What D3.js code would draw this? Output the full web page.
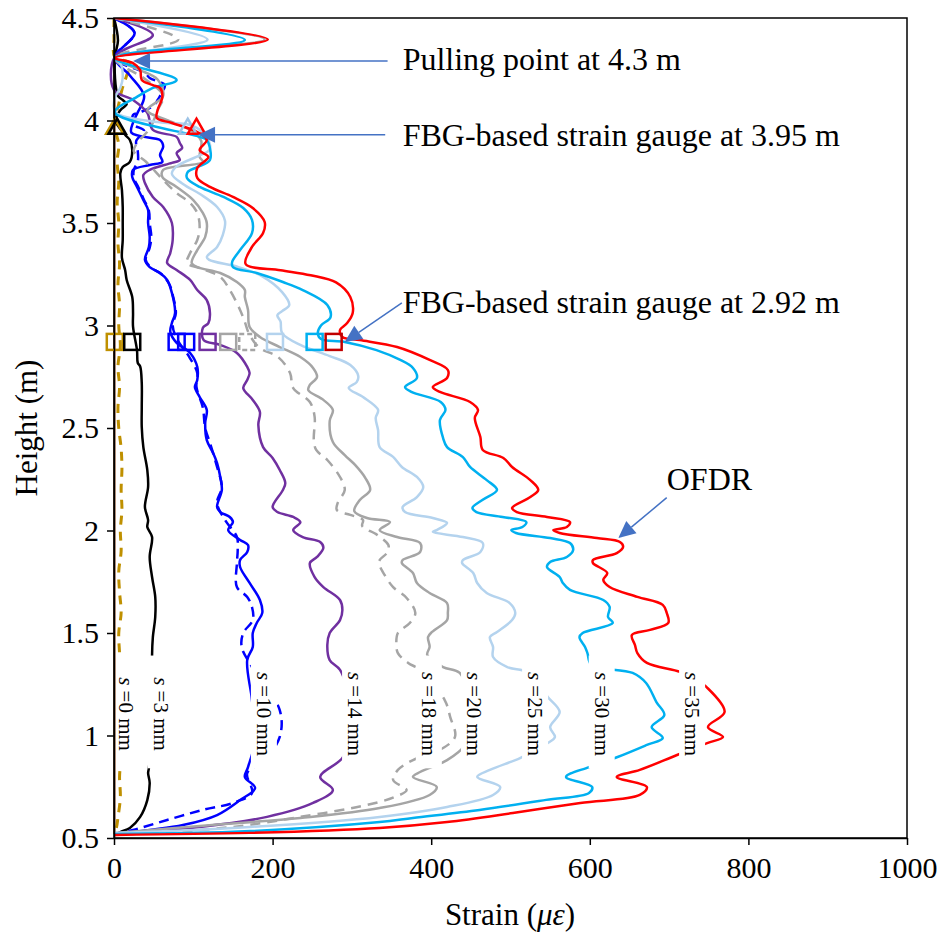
<!DOCTYPE html>
<html>
<head>
<meta charset="utf-8">
<script src="https://cdn.jsdelivr.net/npm/d3@7"></script>
<style>
body { margin: 0; background: #fff; }
text { font-family: "Liberation Serif", "Times New Roman", serif; fill: #000; }
</style>
</head>
<body>
<svg id="chart" width="943" height="943"></svg>
<script>
// ---- data: [height (m), strain (microstrain)] ----
var heightTicks = [0.5, 1, 1.5, 2, 2.5, 3, 3.5, 4, 4.5];
var strainTicks = [0, 200, 400, 600, 800, 1000];

var ofdr0 = [[4.3,0.5],[0.52,0.5]];
var ofdr0b = [[4.5,0],[4.4,0],[4.31,1],[4.28,20],[4.22,16],[4.15,10],[4.08,6],[4.0,1],[3.95,2],[3.88,6],[3.8,4],[3.7,6],[3.6,4],[3.5,6],[3.4,5],[3.3,7],[3.2,5],[3.1,7],[3.0,6],[2.9,8],[2.8,5],[2.7,7],[2.6,5],[2.5,6],[2.4,9],[2.3,10],[2.2,9],[2.1,10],[2.0,8],[1.9,9],[1.8,6],[1.7,7],[1.6,9],[1.5,6],[1.4,7],[1.3,8],[1.2,9],[1.1,8],[1.0,8],[0.9,9],[0.8,7],[0.7,8],[0.6,5],[0.55,3],[0.52,0]];
var ofdr3 = [[4.5,0],[4.39,5],[4.305,1],[4.12,5],[4.1,11],[4.08,16],[4.05,8],[4.0,2],[3.93,14],[3.905,20],[3.856,23],[3.798,20],[3.773,11],[3.744,8],[3.66,10],[3.578,11],[3.5,11],[3.417,11],[3.33,10],[3.271,14],[3.222,16],[3.139,23],[3.061,24],[2.995,24],[2.88,29],[2.817,30],[2.8,33],[2.72,35],[2.602,35],[2.505,35],[2.407,37],[2.295,42],[2.212,43],[2.115,39],[2.051,43],[2.017,42],[1.968,48],[1.871,45],[1.773,48],[1.676,52],[1.578,52],[1.48,49],[1.393,48],[1.124,49],[0.841,44],[0.817,43],[0.768,45],[0.685,42],[0.603,33],[0.549,20],[0.529,8],[0.515,1]];
var ofdr10 = [[4.5,0],[4.427,26],[4.305,1],[4.22,20],[4.12,38],[4.04,30],[3.99,24],[3.94,22],[3.905,58],[3.89,61],[3.871,62],[3.832,58],[3.798,61],[3.783,45],[3.759,24],[3.724,23],[3.676,29],[3.612,37],[3.563,43],[3.5,43],[3.432,45],[3.383,44],[3.32,39],[3.285,45],[3.256,58],[3.222,67],[3.159,73],[3.061,77],[3.012,73],[2.968,71],[2.915,79],[2.866,96],[2.798,105],[2.734,105],[2.7,102],[2.651,108],[2.588,117],[2.524,115],[2.441,117],[2.378,125],[2.329,130],[2.261,134],[2.198,136],[2.115,130],[2.09,134],[2.066,146],[2.041,150],[2.002,144],[1.954,159],[1.929,169],[1.895,168],[1.856,159],[1.822,159],[1.744,171],[1.661,184],[1.598,187],[1.549,180],[1.5,175],[1.432,175],[1.368,168],[1.173,174],[0.978,178],[0.846,169],[0.798,165],[0.744,178],[0.685,159],[0.612,130],[0.563,87],[0.539,45],[0.519,4]];
var ofdr10b = [[4.5,0],[4.427,26],[4.305,1],[4.232,39],[4.207,45],[4.173,64],[4.139,61],[4.1,55],[4.075,51],[4.04,33],[4.027,24],[3.98,25],[3.95,38],[3.9,28],[3.85,30],[3.8,30],[3.76,25],[3.72,25],[3.68,30],[3.62,37],[3.56,44],[3.5,45],[3.43,47],[3.38,45],[3.32,40],[3.285,46],[3.25,60],[3.2,70],[3.15,74],[3.06,78],[3.0,74],[2.93,80],[2.846,95],[2.768,105],[2.7,104],[2.6,112],[2.5,115],[2.427,121],[2.31,130],[2.212,136],[2.134,130],[2.051,140],[1.968,155],[1.905,156],[1.841,155],[1.724,155],[1.676,168],[1.627,174],[1.563,175],[1.5,163],[1.432,161],[1.334,174],[1.124,209],[0.993,209],[0.88,190],[0.817,168],[0.72,174],[0.671,150],[0.637,112],[0.588,67],[0.539,24],[0.52,1]];
var ofdr14 = [[4.5,0],[4.417,49],[4.31,1],[4.149,0],[4.1,24],[4.037,42],[3.954,49],[3.92,79],[3.89,83],[3.866,86],[3.841,79],[3.807,83],[3.793,73],[3.759,45],[3.734,37],[3.695,39],[3.627,49],[3.578,62],[3.5,73],[3.417,74],[3.354,71],[3.305,67],[3.271,79],[3.222,96],[3.173,105],[3.124,117],[3.061,121],[3.012,119],[2.988,112],[2.929,113],[2.905,134],[2.866,155],[2.798,168],[2.768,171],[2.734,168],[2.695,163],[2.637,175],[2.578,184],[2.515,182],[2.407,188],[2.354,200],[2.295,209],[2.232,216],[2.198,213],[2.115,200],[2.09,206],[2.066,226],[2.041,235],[2.002,226],[1.968,238],[1.944,260],[1.915,264],[1.871,256],[1.841,247],[1.773,253],[1.724,264],[1.661,285],[1.612,288],[1.563,285],[1.5,272],[1.441,269],[1.368,272],[1.32,285],[1.173,298],[1.027,304],[0.89,288],[0.798,260],[0.734,276],[0.671,251],[0.603,193],[0.554,108],[0.529,24],[0.515,1]];
var ofdr18 = [[4.5,0],[4.395,81],[4.305,1],[4.2,40],[4.12,62],[4.05,55],[3.96,45],[3.89,29],[3.85,25],[3.8,40],[3.71,62],[3.646,79],[3.598,96],[3.549,105],[3.48,108],[3.417,105],[3.354,96],[3.305,92],[3.28,108],[3.237,134],[3.173,146],[3.076,159],[3.017,165],[2.954,171],[2.89,184],[2.846,207],[2.768,222],[2.695,226],[2.627,247],[2.554,253],[2.441,252],[2.393,255],[2.344,269],[2.261,285],[2.198,291],[2.134,282],[2.1,281],[2.076,298],[2.051,314],[2.022,313],[1.978,332],[1.929,346],[1.895,345],[1.856,335],[1.841,334],[1.778,342],[1.724,352],[1.671,369],[1.598,380],[1.549,373],[1.5,358],[1.451,356],[1.402,358],[1.354,371],[1.32,386],[1.173,417],[1.09,424],[0.993,430],[0.93,411],[0.88,377],[0.832,358],[0.783,352],[0.734,369],[0.7,354],[0.661,319],[0.603,235],[0.554,150],[0.529,67],[0.515,1]];
var ofdr20 = [[4.5,0],[4.395,190],[4.305,1],[4.25,30],[4.2,55],[4.12,62],[4.05,42],[4.0,68],[3.95,98],[3.9,110],[3.822,108],[3.798,112],[3.759,62],[3.724,61],[3.676,79],[3.612,100],[3.549,112],[3.5,117],[3.432,115],[3.368,105],[3.305,98],[3.285,105],[3.256,134],[3.212,155],[3.173,165],[3.139,165],[3.076,169],[2.993,171],[2.944,184],[2.895,209],[2.846,235],[2.793,251],[2.749,256],[2.71,247],[2.685,245],[2.637,264],[2.588,276],[2.534,272],[2.432,276],[2.368,291],[2.32,304],[2.256,317],[2.198,323],[2.149,310],[2.095,303],[2.061,319],[2.041,348],[2.002,335],[1.968,357],[1.939,386],[1.895,386],[1.856,364],[1.841,363],[1.793,377],[1.744,382],[1.695,398],[1.646,420],[1.598,421],[1.563,420],[1.505,401],[1.48,396],[1.432,398],[1.393,395],[1.334,415],[1.305,436],[1.173,449],[1.076,455],[0.954,443],[0.88,420],[0.822,386],[0.798,377],[0.749,407],[0.71,398],[0.646,335],[0.598,235],[0.559,108],[0.524,1]];
var ofdr25 = [[4.5,0],[4.395,118],[4.305,1],[4.28,8],[4.21,11],[4.16,8],[4.11,1],[4.04,2],[3.99,60],[3.978,96],[3.93,115],[3.86,121],[3.83,108],[3.776,79],[3.74,73],[3.69,87],[3.64,109],[3.578,130],[3.51,140],[3.44,137],[3.383,130],[3.334,117],[3.32,120],[3.285,157],[3.24,187],[3.163,212],[3.1,221],[3.07,212],[3.05,206],[3.02,210],[2.963,212],[2.905,235],[2.851,272],[2.807,298],[2.754,308],[2.724,306],[2.695,296],[2.651,314],[2.588,333],[2.549,330],[2.49,333],[2.407,335],[2.359,352],[2.31,363],[2.261,382],[2.212,390],[2.163,382],[2.115,364],[2.09,367],[2.061,402],[2.037,420],[2.002,407],[1.993,402],[1.968,440],[1.939,465],[1.895,462],[1.856,440],[1.841,439],[1.793,453],[1.744,458],[1.695,470],[1.646,499],[1.598,506],[1.563,502],[1.505,483],[1.48,474],[1.432,478],[1.383,478],[1.334,496],[1.31,521],[1.246,537],[1.188,547],[1.115,562],[1.041,550],[0.993,556],[0.963,547],[0.93,531],[0.89,512],[0.832,474],[0.798,458],[0.749,487],[0.71,478],[0.651,420],[0.603,335],[0.554,171],[0.524,1]];
var ofdr30 = [[4.5,0],[4.393,165],[4.305,1],[4.198,79],[4.159,49],[4.115,29],[4.04,1],[3.92,108],[3.905,117],[3.807,121],[3.773,105],[3.749,93],[3.72,92],[3.676,108],[3.627,138],[3.573,163],[3.515,174],[3.451,174],[3.368,159],[3.31,149],[3.285,150],[3.256,180],[3.212,213],[3.173,238],[3.1,269],[3.04,273],[3.0,261],[2.963,257],[2.934,261],[2.92,291],[2.88,331],[2.832,361],[2.793,377],[2.744,382],[2.7,367],[2.676,375],[2.627,412],[2.588,418],[2.539,411],[2.451,415],[2.407,420],[2.358,440],[2.31,449],[2.246,470],[2.198,483],[2.15,465],[2.11,452],[2.09,457],[2.066,490],[2.041,520],[2.017,515],[2.002,501],[1.988,507],[1.963,550],[1.939,575],[1.905,579],[1.871,571],[1.846,550],[1.822,546],[1.773,562],[1.744,566],[1.71,575],[1.661,617],[1.627,625],[1.578,623],[1.549,629],[1.5,591],[1.48,587],[1.432,594],[1.402,597],[1.344,602],[1.305,654],[1.256,671],[1.163,684],[1.1,694],[1.041,678],[0.988,692],[0.954,672],[0.895,635],[0.846,599],[0.798,570],[0.749,603],[0.72,599],[0.686,545],[0.637,461],[0.598,377],[0.578,335],[0.53,150],[0.52,1]];
var ofdr35 = [[4.5,0],[4.395,194],[4.305,1],[4.28,24],[4.246,33],[4.198,35],[4.173,49],[4.159,58],[4.115,61],[4.051,55],[4.012,54],[3.988,73],[3.944,105],[3.905,117],[3.856,108],[3.822,119],[3.768,105],[3.72,105],[3.676,121],[3.627,150],[3.573,175],[3.505,190],[3.451,188],[3.383,174],[3.3,166],[3.27,210],[3.245,248],[3.21,280],[3.139,298],[3.061,301],[3.012,294],[2.978,285],[2.944,288],[2.929,310],[2.895,357],[2.832,398],[2.783,421],[2.744,420],[2.7,402],[2.676,411],[2.627,449],[2.588,459],[2.549,455],[2.456,462],[2.393,465],[2.354,491],[2.31,502],[2.246,525],[2.198,535],[2.163,525],[2.11,502],[2.09,508],[2.066,546],[2.041,575],[2.017,571],[2.002,554],[1.988,562],[1.963,609],[1.944,638],[1.92,642],[1.89,634],[1.856,604],[1.841,604],[1.793,622],[1.759,617],[1.724,625],[1.676,660],[1.637,692],[1.598,697],[1.549,699],[1.515,676],[1.49,653],[1.441,657],[1.402,660],[1.354,672],[1.31,714],[1.276,733],[1.237,747],[1.115,770],[1.041,749],[0.993,768],[0.963,748],[0.905,710],[0.832,663],[0.798,634],[0.749,672],[0.71,663],[0.671,588],[0.622,503],[0.578,420],[0.549,335],[0.525,171],[0.515,1]];

// slip labels and where they sit
var slips = ["0", "3", "10", "14", "18", "20", "25", "30", "35"];
var labelStrain = [15, 59, 189, 304, 397, 454, 531, 615, 729];

// FBG readings: squares at 2.92 m, triangles at 3.95 m
var fbgLowHeight = 2.92;
var fbgLow = [1, 23, 79, 91, 118, 144, 168, 203, 253, 277];
var fbgHighHeight = 3.95;
var fbgHigh = [1, 4, 93, 104];

// ---- styles ----
var lines = [
  {data: ofdr0,   color: "#C55A11", dash: null,   w: 2},
  {data: ofdr0b,  color: "#BF9000", dash: "9,7",  w: 3},
  {data: ofdr3,   color: "#000000", dash: null,   w: 2.5},
  {data: ofdr10b, color: "#0000FF", dash: "10,6", w: 2.5},
  {data: ofdr10,  color: "#0000FF", dash: null,   w: 2.5},
  {data: ofdr14,  color: "#7030A0", dash: null,   w: 2.5},
  {data: ofdr18,  color: "#A5A5A5", dash: "10,7", w: 2.5},
  {data: ofdr20,  color: "#A5A5A5", dash: null,   w: 2.5},
  {data: ofdr25,  color: "#B4D3EE", dash: null,   w: 2.5},
  {data: ofdr30,  color: "#00B0F0", dash: null,   w: 2.5},
  {data: ofdr35,  color: "#FF0000", dash: null,   w: 2.5}
];
var lowColors = ["#BF9000", "#000000", "#0000FF", "#0000FF", "#7030A0", "#A5A5A5", "#A5A5A5", "#B4D3EE", "#00B0F0", "#C00000"];
var lowDash = [null, null, null, null, null, null, "5,3", null, null, null];
var highColors = ["#BF9000", "#000000", "#9DC3E6", "#FF0000"];

var svg = d3.select("#chart");
var x = d3.scaleLinear().domain([0, 1000]).range([114, 907]);
var y = d3.scaleLinear().domain([0.5, 4.5]).range([838, 18]);

svg.append("defs").append("clipPath").attr("id", "plot")
  .append("rect").attr("x", 100).attr("y", 18).attr("width", 807).attr("height", 820);

var line = d3.line()
  .x(function(d){ return x(d[1]); })
  .y(function(d){ return y(d[0]); })
  .curve(d3.curveCatmullRom.alpha(0.5));

var g = svg.append("g").attr("clip-path", "url(#plot)");
lines.forEach(function(s){
  g.append("path").attr("d", line(s.data))
    .attr("fill", "none").attr("stroke", s.color)
    .attr("stroke-width", s.w)
    .attr("stroke-dasharray", s.dash)
    .attr("stroke-linejoin", "round");
});

// frame
svg.append("rect").attr("x", x(0)).attr("y", y(4.5))
  .attr("width", x(1000) - x(0)).attr("height", y(0.5) - y(4.5))
  .attr("fill", "none").attr("stroke", "#000").attr("stroke-width", 1.5);

// white boxes behind the slip labels, then the labels
var boxTop = 1.39, boxBottom = 0.84, labelH = 1.105;
slips.forEach(function(s, i){
  var cx = x(labelStrain[i]);
  var left = Math.max(cx - 13, x(0) + 2);
  svg.append("rect").attr("x", left).attr("y", y(boxTop))
    .attr("width", cx + 13 - left).attr("height", y(boxBottom) - y(boxTop))
    .attr("fill", "#fff");
  var t = svg.append("text")
    .attr("transform", "translate(" + cx + "," + y(labelH) + ") rotate(90)")
    .attr("text-anchor", "middle").attr("dominant-baseline", "central")
    .style("font-size", "21px");
  t.append("tspan").style("font-style", "italic").text("s");
  t.append("tspan").text(" =" + s + " mm");
});

// FBG markers
fbgLow.forEach(function(v, i){
  svg.append("rect").attr("x", x(v) - 8).attr("y", y(fbgLowHeight) - 8)
    .attr("width", 16).attr("height", 16)
    .attr("fill", "none").attr("stroke", lowColors[i]).attr("stroke-width", 2.5)
    .attr("stroke-dasharray", lowDash[i]);
});
var tri = d3.symbol().type(d3.symbolTriangle).size(130);
fbgHigh.forEach(function(v, i){
  svg.append("path").attr("d", tri())
    .attr("transform", "translate(" + x(v) + "," + (y(fbgHighHeight) - 2) + ")")
    .attr("fill", "none").attr("stroke", highColors[i]).attr("stroke-width", 2.5);
});

// axes
var yAxis = d3.axisLeft(y).tickValues(heightTicks).tickSize(7).tickSizeOuter(0)
  .tickPadding(8).tickFormat(function(d){ return String(d); });
var xAxis = d3.axisBottom(x).tickValues(strainTicks).tickSize(7).tickSizeOuter(0)
  .tickPadding(12).tickFormat(function(d){ return String(d); });
var ya = svg.append("g").attr("transform", "translate(" + x(0) + ",0)").call(yAxis);
var xa = svg.append("g").attr("transform", "translate(0," + y(0.5) + ")").call(xAxis);
[ya, xa].forEach(function(a){
  a.select(".domain").attr("stroke-width", 1.5);
  a.selectAll(".tick line").attr("stroke-width", 1.5);
  a.selectAll("text").style("font-size", "30px")
    .style("font-family", "'Liberation Serif', 'Times New Roman', serif");
});

svg.append("text").attr("transform", "translate(37,428) rotate(-90)")
  .attr("text-anchor", "middle").style("font-size", "31px").text("Height (m)");
var xt = svg.append("text").attr("x", 510).attr("y", 925)
  .attr("text-anchor", "middle").style("font-size", "31px");
xt.append("tspan").text("Strain (");
xt.append("tspan").style("font-style", "italic").text("\u03bc\u03b5");
xt.append("tspan").text(")");

// annotations: arrow tip [strain, height], tail [strain, height], text anchor [strain, height]
var notes = [
  {text: "Pulling point at 4.3 m",           tip: [24, 4.29],   tail: [345, 4.29], at: [364, 4.245]},
  {text: "FBG-based strain gauge at 3.95 m", tip: [106, 3.93],  tail: [342, 3.93], at: [364, 3.876]},
  {text: "FBG-based strain gauge at 2.92 m", tip: [291, 2.92],  tail: [363, 3.11], at: [364, 3.06]},
  {text: "OFDR",                             tip: [636, 1.963], tail: [697, 2.16], at: [697, 2.198]}
];
notes.forEach(function(n){
  var tx = x(n.tip[0]), ty = y(n.tip[1]);
  var sx = x(n.tail[0]), sy = y(n.tail[1]);
  var dx = tx - sx, dy = ty - sy, len = Math.sqrt(dx * dx + dy * dy);
  var ux = dx / len, uy = dy / len, L = 17, W = 8;
  var bx = tx - ux * L, by = ty - uy * L;
  svg.append("line").attr("x1", sx).attr("y1", sy).attr("x2", bx).attr("y2", by)
    .attr("stroke", "#4472C4").attr("stroke-width", 1.5);
  svg.append("path")
    .attr("d", "M" + tx + "," + ty + "L" + (bx - uy * W) + "," + (by + ux * W) + "L" + (bx + uy * W) + "," + (by - ux * W) + "Z")
    .attr("fill", "#4472C4");
  svg.append("text").attr("x", x(n.at[0])).attr("y", y(n.at[1]))
    .style("font-size", "32px").text(n.text);
});
</script>
</body>
</html>
